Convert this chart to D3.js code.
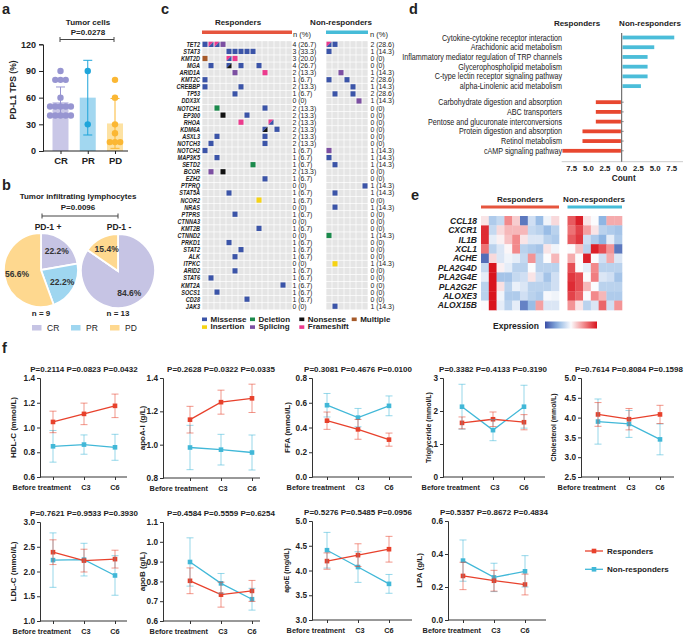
<!DOCTYPE html>
<html><head><meta charset="utf-8">
<script src="https://cdn.jsdelivr.net/npm/d3@7"></script>
<style>
body{margin:0;background:#fff}
svg{display:block;background:#fff}
text{font-family:'Liberation Sans',Arial,Helvetica,sans-serif;fill:#222}
</style>
</head><body>
<svg id="fig" width="685" height="636"></svg>
<script>
// ===================== DATA =====================
// Panel a
const aCats = ["CR", "PR", "PD"];
const aMeans = [55, 60, 31];
const aSD = [17, 42, 28];
const aCR = [90, 80, 80, 80, 60, 50, 50, 50, 50, 50, 40, 40, 40, 40, 40];
const aPR = [90, 30];
const aPD = [80, 60, 30, 20, 10, 10, 10];
const aTicks = [0, 30, 60, 90, 120];
const aPval = "P=0.0278";

// Panel b
const bCats = ["CR", "PR", "PD"];
const bPos = [2, 2, 5];
const bPosLabels = ["22.2%", "22.2%", "56.6%"];
const bNeg = [11, 0, 2];
const bNegLabels = ["84.6%", "", "15.4%"];
const bPval = "P=0.0096";

// Panel c
const cGenes = ["TET2","STAT3","KMT2D","MGA","ARID1A","KMT2C","CREBBP","TP53","DDX3X","NOTCH1","EP300","RHOA","KDM6A","ASXL3","NOTCH3","NOTCH2","MAP3K5","SETD2","BCOR","EZH2","PTPRQ","STAT5A","NCOR2","NRAS","PTPRS","CTNNA3","KMT2B","CTNND2","PRKD1","STAT2","ALK","ITPKC","ARID2","STAT6","KMT2A","SOCS1","CD28","JAK3"];
const cRespN = ["4 (26.7)","3 (33.3)","3 (20.0)","4 (26.7)","2 (13.3)","1 (6.7)","2 (13.3)","1 (6.7)","0 (0)","2 (13.3)","2 (13.3)","2 (13.3)","2 (13.3)","2 (13.3)","2 (13.3)","1 (6.7)","1 (6.7)","1 (6.7)","2 (13.3)","1 (6.7)","0 (0)","1 (6.7)","1 (6.7)","0 (0)","1 (6.7)","0 (0)","1 (6.7)","0 (0)","1 (6.7)","1 (6.7)","1 (6.7)","0 (0)","1 (6.7)","1 (6.7)","1 (6.7)","1 (6.7)","1 (6.7)","0 (0)"];
const cNonN = ["2 (28.6)","1 (14.3)","0 (0)","0 (0)","1 (14.3)","2 (28.6)","1 (14.3)","2 (28.6)","1 (14.3)","0 (0)","0 (0)","0 (0)","0 (0)","0 (0)","0 (0)","1 (14.3)","1 (14.3)","1 (14.3)","0 (0)","0 (0)","1 (14.3)","1 (14.3)","0 (0)","1 (14.3)","0 (0)","0 (0)","0 (0)","1 (14.3)","0 (0)","0 (0)","0 (0)","1 (14.3)","0 (0)","0 (0)","0 (0)","0 (0)","0 (0)","1 (14.3)"];
const cRespSamples = d3.range(15);
const cNonSamples = d3.range(7);
const cRespMut = [
 ["TET2",0,"Missense"],["TET2",1,"Frameshift/Missense"],["TET2",2,"Frameshift/Missense"],["TET2",3,"Splicing"],
 ["STAT3",4,"Missense"],["STAT3",5,"Missense"],["STAT3",6,"Missense"],["STAT3",7,"Missense"],["STAT3",8,"Missense"],
 ["KMT2D",0,"Multiple"],["KMT2D",4,"Frameshift/Missense"],["KMT2D",5,"Frameshift"],
 ["MGA",1,"Missense"],["MGA",4,"Missense/Nonsense"],["MGA",6,"Missense"],["MGA",9,"Missense"],
 ["ARID1A",5,"Splicing"],["ARID1A",10,"Frameshift"],
 ["KMT2C",0,"Missense"],
 ["CREBBP",0,"Missense"],["CREBBP",6,"Missense"],
 ["TP53",5,"Missense"],
 ["NOTCH1",2,"Deletion"],["NOTCH1",10,"Missense"],
 ["EP300",3,"Nonsense"],["EP300",7,"Missense"],
 ["RHOA",6,"Frameshift"],["RHOA",11,"Frameshift/Missense"],
 ["KDM6A",10,"Missense/Nonsense"],["KDM6A",12,"Missense"],
 ["ASXL3",2,"Missense"],["ASXL3",10,"Missense"],
 ["NOTCH3",1,"Missense"],["NOTCH3",10,"Missense"],
 ["NOTCH2",0,"Missense"],
 ["MAP3K5",2,"Missense"],
 ["SETD2",8,"Deletion"],
 ["BCOR",1,"Splicing"],["BCOR",3,"Nonsense"],
 ["EZH2",10,"Missense"],
 ["STAT5A",4,"Missense"],
 ["NCOR2",9,"Insertion"],
 ["PTPRS",5,"Missense"],
 ["KMT2B",9,"Missense"],
 ["PRKD1",4,"Missense"],
 ["STAT2",6,"Missense"],
 ["ALK",5,"Missense"],
 ["ARID2",5,"Missense"],
 ["STAT6",1,"Missense"],
 ["KMT2A",13,"Missense"],
 ["SOCS1",2,"Missense"],
 ["CD28",7,"Missense"]
];
const cNonMut = [
 ["TET2",0,"Frameshift/Missense"],["TET2",1,"Missense"],
 ["STAT3",0,"Missense"],
 ["ARID1A",2,"Splicing"],
 ["KMT2C",0,"Missense"],["KMT2C",3,"Missense"],
 ["CREBBP",4,"Missense"],
 ["TP53",1,"Missense"],["TP53",4,"Missense"],
 ["DDX3X",5,"Splicing"],
 ["NOTCH2",0,"Splicing"],
 ["MAP3K5",0,"Missense"],
 ["SETD2",1,"Missense"],
 ["PTPRQ",6,"Missense"],
 ["STAT5A",1,"Missense"],
 ["NRAS",1,"Missense"],
 ["CTNND2",0,"Deletion"],
 ["ITPKC",1,"Insertion"],
 ["JAK3",1,"Missense"]
];
const cTypes = ["Missense","Deletion","Nonsense","Multiple","Insertion","Splicing","Frameshift"];

// Panel d
const dTerms = ["Cytokine-cytokine receptor interaction","Arachidonic acid metabolism","Inflammatory mediator regulation of TRP channels","Glycerophospholipid metabolism","C-type lectin receptor signaling pathway","alpha-Linolenic acid metabolism","Carbohydrate digestion and absorption","ABC transporters","Pentose and glucuronate interconversions","Protein digestion and absorption","Retinol metabolism","cAMP signaling pathway"];
const dCounts = [8, 5, 4, 4, 4, 3, 4, 4, 4, 6, 6, 9];
const dGroups = ["Non-responders","Non-responders","Non-responders","Non-responders","Non-responders","Non-responders","Responders","Responders","Responders","Responders","Responders","Responders"];
const dTicks = [0, 2.5, 5, 7.5];

// Panel e
const eGenes = ["CCL18","CXCR1","IL1B","XCL1","ACHE","PLA2G4D","PLA2G4E","PLA2G2F","ALOXE3","ALOX15B"];
const eResp = [
 [0.1,-0.35,-0.25,0.5,0.2,-0.8,-0.2,-0.45,-0.05,0.15],
 [0.9,-0.25,0.15,0.3,0.3,0.3,-0.25,-0.3,-0.45,-0.3],
 [0.9,-0.1,0.05,0.25,0.5,0.1,-0.15,-0.15,-0.3,-0.35],
 [0.6,-0.3,-0.15,0.02,0.5,-0.3,-0.35,-0.4,0.1,-0.05],
 [-0.85,0.15,-0.15,-0.05,-0.1,-0.25,0.45,-0.3,0.0,0.3],
 [-0.25,1.0,0.05,-0.1,-0.3,-0.3,0.0,-0.3,-0.3,-0.3],
 [-0.1,1.0,-0.4,-0.4,-0.25,-0.2,0.1,-0.2,-0.4,-0.2],
 [-0.3,1.0,0.12,-0.3,-0.08,-0.15,-0.3,-0.3,-0.3,-0.2],
 [-0.3,1.0,-0.05,-0.35,-0.35,-0.2,-0.3,-0.35,-0.02,-0.05],
 [0.0,1.0,-0.1,-0.3,-0.1,-0.75,-0.45,0.4,-0.15,-0.15]
];
const eNon = [
 [0.7,0.95,0.1,0.0,-0.5,0.35,0.35],
 [0.6,0.8,0.4,0.1,-0.3,-0.35,-0.4],
 [0.7,0.85,-0.2,-0.35,-0.5,-0.1,-0.35],
 [0.0,0.25,-0.3,0.95,0.75,0.45,-0.8],
 [0.35,0.0,0.95,0.0,-0.2,0.35,-0.15],
 [0.75,0.0,-0.1,0.5,-0.3,-0.3,-0.3],
 [0.85,0.75,0.0,0.55,-0.15,-0.2,-0.4],
 [0.9,0.75,0.3,0.0,-0.3,-0.3,-0.3],
 [0.8,0.65,0.0,0.5,0.3,-0.35,-0.35],
 [0.45,0.1,-0.3,-0.15,0.65,-0.2,0.45]
];

// Panel f
const fTimes = ["Before treatment", "C3", "C6"];
const fYLabels = ["HDL-C (mmol/L)","apoA-I (g/L)","FFA (mmol/L)","Triglyceride (mmol/L)","Cholesterol (mmol/L)","LDL-C (mmol/L)","apoB (g/L)","apoE (mg/dL)","LPA (g/L)"];
const fPvals = ["P=0.2114 P=0.0823 P=0.0432","P=0.2628 P=0.0322 P=0.0335","P=0.3081 P=0.4676 P=0.0100","P=0.3382 P=0.4133 P=0.3190","P=0.7614 P=0.8084 P=0.1598","P=0.7621 P=0.9533 P=0.3930","P=0.4584 P=0.5559 P=0.6254","P=0.5276 P=0.5485 P=0.0956","P=0.5357 P=0.8672 P=0.4834"];
const fDomains = [[0.6,1.4],[0.8,1.4],[0,0.8],[0,3],[2.5,5],[1,3],[0.6,1.1],[3,5],[0,0.6]];
const fTicks = [[0.6,0.8,1.0,1.2,1.4],[0.8,1.0,1.2,1.4],[0,0.2,0.4,0.6,0.8],[0,1,2,3],[2.5,3,3.5,4,4.5,5],[1,1.5,2,2.5,3],[0.6,0.7,0.8,0.9,1.0,1.1],[3,3.5,4,4.5,5],[0,0.2,0.4,0.6]];
const fTickFmt = [".1f",".1f",".1f","d",".1f",".1f",".1f",".1f",".1f"];
const fRespMean = [[1.045,1.11,1.175],[1.15,1.255,1.278],[0.455,0.385,0.302],[1.64,1.75,1.66],[4.08,3.96,4.08],[2.39,2.22,2.25],[0.803,0.733,0.752],[4.19,4.31,4.43],[0.267,0.238,0.215]];
const fRespErr  = [[0.087,0.087,0.095],[0.08,0.072,0.085],[0.07,0.08,0.053],[0.18,0.22,0.23],[0.3,0.27,0.23],[0.25,0.23,0.18],[0.065,0.063,0.053],[0.165,0.23,0.26],[0.083,0.063,0.063]];
const fNonMean  = [[0.848,0.862,0.84],[0.983,0.97,0.953],[0.58,0.48,0.575],[2.13,1.42,2.13],[3.9,3.84,3.45],[2.23,2.24,1.92],[0.898,0.79,0.71],[4.41,4.07,3.73],[0.36,0.258,0.295]];
const fNonErr   = [[0.128,0.078,0.105],[0.133,0.092,0.105],[0.095,0.074,0.08],[0.68,0.32,0.65],[0.57,0.34,0.39],[0.55,0.33,0.4],[0.122,0.05,0.055],[0.36,0.31,0.19],[0.125,0.086,0.095]];
const fSeries = ["Responders", "Non-responders"];

// ===================== STYLE =====================
const RED = "#e8412c", CYAN = "#41b8d8";
const aBarCol = {CR:"#c9c7e7", PR:"#a2d7f0", PD:"#fde2a3"};
const aDotCol = {CR:"#9795d1", PR:"#1ea5da", PD:"#fbb733"};
const bCol = {CR:"#c6c4e4", PR:"#9fd6f0", PD:"#fed88f"};
const cCol = {Missense:"#3b54a8", Deletion:"#1b8a4c", Nonsense:"#111111", Multiple:"#a65a2a", Insertion:"#f6d313", Splicing:"#7c4fa2", Frameshift:"#ec3a8d"};

const svg = d3.select("#fig");
function T(x, y, s, o = {}) {
  const size = o.size || 8, weight = o.weight || "bold", anchor = o.anchor || "start";
  let tr = `translate(${x},${y})`;
  if (o.rot) tr += ` rotate(${o.rot})`;
  if (o.sx) tr += ` scale(${o.sx},1)`;
  return svg.append("text").attr("transform", tr).attr("text-anchor", anchor)
    .attr("font-size", size).attr("font-weight", weight).attr("font-style", o.style || "normal")
    .style("fill", o.fill || "#222").text(s);
}
function line(x1, y1, x2, y2, col = "#333", w = 1) {
  svg.append("line").attr("x1", x1).attr("y1", y1).attr("x2", x2).attr("y2", y2)
    .attr("stroke", col).attr("stroke-width", w);
}

// panel letters
[["a",2,14],["b",2,190],["c",161,14],["d",409,14],["e",411,200],["f",2,353]].forEach(([l,x,y]) => T(x, y, l, {size:14.5}));

// ===================== PANEL A =====================
{
  const y = d3.scaleLinear().domain([0, 120]).range([151, 44.3]);
  const x = d3.scalePoint().domain(aCats).range([60.5, 115]);
  const bw = 16;
  const pts = {CR: aCR, PR: aPR, PD: aPD};
  svg.append("g").selectAll("rect").data(aCats).join("rect")
    .attr("x", d => x(d) - bw / 2).attr("width", bw)
    .attr("y", (d, i) => y(aMeans[i])).attr("height", (d, i) => y(0) - y(aMeans[i]))
    .attr("fill", d => aBarCol[d]);
  aCats.forEach((c, i) => {
    const lo = Math.max(0, aMeans[i] - aSD[i]), hi = aMeans[i] + aSD[i];
    line(x(c), y(lo), x(c), y(hi), aDotCol[c], 1);
    line(x(c) - 4.5, y(hi), x(c) + 4.5, y(hi), aDotCol[c], 1);
    line(x(c) - 4.5, y(lo), x(c) + 4.5, y(lo), aDotCol[c], 1);
  });
  aCats.forEach(c => {
    const vals = pts[c];
    const groups = d3.group(vals.map((v, k) => ({v, k})), d => d.v);
    groups.forEach(arr => {
      arr.forEach((d, j) => {
        const off = (j - (arr.length - 1) / 2) * 5.2;
        svg.append("circle").attr("cx", x(c) + off).attr("cy", y(d.v)).attr("r", 3.2).attr("fill", aDotCol[c]);
      });
    });
  });
  const ga = svg.append("g").attr("transform", "translate(43,0)")
    .call(d3.axisLeft(y).tickValues(aTicks).tickSize(4).tickPadding(3));
  ga.selectAll("text").attr("font-size", 9).attr("font-weight", "bold").style("font-family", "'Liberation Sans',Arial,sans-serif");
  ga.selectAll("line,path").attr("stroke", "#222");
  const gb = svg.append("g").attr("transform", "translate(0,151)")
    .call(d3.axisBottom(x).tickSize(3).tickPadding(3));
  gb.select(".domain").attr("d", "M43,0H128");
  gb.selectAll("text").attr("font-size", 9.5).attr("font-weight", "bold").style("font-family", "'Liberation Sans',Arial,sans-serif");
  gb.selectAll("line,path").attr("stroke", "#222");
  T(16, 90, "PD-L1 TPS (%)", {size: 8.5, anchor: "middle", rot: -90});
  T(88, 25, "Tumor cells", {size: 8, anchor: "middle"});
  T(88, 35, aPval, {size: 8, anchor: "middle"});
  line(60, 39.5, 114, 39.5, "#444");
  line(60, 37, 60, 42, "#444"); line(114, 37, 114, 42, "#444");
}

// ===================== PANEL B =====================
{
  const pie = d3.pie().sort(null).value(d => d).startAngle(0).endAngle(2 * Math.PI);
  const arc = d3.arc().innerRadius(0).outerRadius(37);
  const lab = d3.arc().innerRadius(0.66 * 37).outerRadius(0.66 * 37);
  [[bPos, bPosLabels, 41, 270], [bNeg, bNegLabels, 118, 271]].forEach(([vals, labs, cx, cy]) => {
    const g = svg.append("g").attr("transform", `translate(${cx},${cy})`);
    const arcs = pie(vals);
    g.selectAll("path").data(arcs).join("path").attr("d", arc)
      .attr("fill", (d, i) => bCol[bCats[i]]).attr("stroke", "#fff").attr("stroke-width", 1.8);
    arcs.forEach((d, i) => {
      if (!labs[i]) return;
      const [lx, ly] = lab.centroid(d);
      T(cx + lx, cy + ly + 3, labs[i], {size: 8.5, anchor: "middle", fill: "#333"});
    });
  });
  T(78, 199, "Tumor infiltrating lymphocytes", {size: 8, anchor: "middle"});
  T(78, 210, bPval, {size: 8, anchor: "middle"});
  line(42, 216, 118, 216, "#444");
  line(42, 213.5, 42, 218.5, "#444"); line(118, 213.5, 118, 218.5, "#444");
  T(48, 230, "PD-1 +", {size: 8.5, anchor: "middle"});
  T(119, 230, "PD-1 -", {size: 8.5, anchor: "middle"});
  T(41, 316, "n = 9", {size: 8, anchor: "middle"});
  T(118, 316, "n = 13", {size: 8, anchor: "middle"});
  const lx = d3.scalePoint().domain(bCats).range([32, 110]);
  bCats.forEach(c => {
    svg.append("rect").attr("x", lx(c)).attr("y", 325).attr("width", 9.5).attr("height", 5.5).attr("fill", bCol[c]);
    T(lx(c) + 15, 331, c, {size: 8.5, weight: "normal"});
  });
}

// ===================== PANEL C =====================
{
  const yR = d3.scaleBand().domain(cGenes).range([40.8, 309.8]);
  const xR = d3.scaleBand().domain(cRespSamples).range([202, 292]);
  const xN = d3.scaleBand().domain(cNonSamples).range([326, 368]);
  const gap = 0.7;
  function grid(xs, samples) {
    cGenes.forEach(g => samples.forEach(s => {
      svg.append("rect").attr("x", xs(s) + gap / 2).attr("y", yR(g) + gap / 2)
        .attr("width", xs.bandwidth() - gap).attr("height", yR.bandwidth() - gap).attr("fill", "#e5e5e5");
    }));
  }
  grid(xR, cRespSamples); grid(xN, cNonSamples);
  function muts(xs, list) {
    list.forEach(([g, s, t]) => {
      const w = 5, h = 5.2;
      const x0 = xs(s) + (xs.bandwidth() - w) / 2, y0 = yR(g) + (yR.bandwidth() - h) / 2;
      const parts = t.split("/");
      if (parts.length === 1) {
        svg.append("rect").attr("x", x0).attr("y", y0).attr("width", w).attr("height", h).attr("fill", cCol[t]);
      } else {
        svg.append("polygon").attr("points", `${x0},${y0} ${x0 + w},${y0} ${x0},${y0 + h}`).attr("fill", cCol[parts[0]]);
        svg.append("polygon").attr("points", `${x0 + w},${y0} ${x0 + w},${y0 + h} ${x0},${y0 + h}`).attr("fill", cCol[parts[1]]);
      }
    });
  }
  muts(xR, cRespMut); muts(xN, cNonMut);
  cGenes.forEach((g, i) => {
    const yc = yR(g) + yR.bandwidth() / 2 + 2.5;
    T(200, yc, g, {size: 7.3, style: "italic", anchor: "end", sx: 0.76});
    T(292.5, yc, cRespN[i], {size: 6.9, weight: "normal", sx: 1.0});
    T(370.5, yc, cNonN[i], {size: 6.9, weight: "normal", sx: 1.0});
  });
  T(238, 25, "Responders", {size: 8, anchor: "middle"});
  T(341, 25, "Non-responders", {size: 8, anchor: "middle"});
  svg.append("rect").attr("x", 202).attr("y", 30.5).attr("width", 90).attr("height", 3.5).attr("fill", "#e6553e");
  svg.append("rect").attr("x", 326).attr("y", 30.5).attr("width", 42).attr("height", 3.5).attr("fill", "#46bcd8");
  T(293, 37, "n (%)", {size: 7.5, weight: "normal"});
  T(370, 37, "n (%)", {size: 7.5, weight: "normal"});
  const legPos = [[202, 321.5], [250, 321.5], [299.3, 321.5], [351.7, 321.5], [202, 329.3], [250, 329.3], [299.3, 329.3]];
  cTypes.forEach((t, i) => {
    const [lx, ly] = legPos[i];
    svg.append("rect").attr("x", lx).attr("y", ly - 4).attr("width", 5).attr("height", 3.6).attr("fill", cCol[t]);
    T(lx + 8.5, ly, t, {size: 8});
  });
}

// ===================== PANEL D =====================
{
  const zero = 621.7, unit = 6.67;
  const xR = d3.scaleLinear().domain([0, 9]).range([zero, zero + 9 * unit]);
  const xL = d3.scaleLinear().domain([0, 9]).range([zero, zero - 9 * unit]);
  const yPos = d3.scaleLinear().domain([0, 11.65]).range([37.5, 150.8]);
  const idx = i => i < 6 ? i : i + 0.65;
  const bh = 5.4;
  dTerms.forEach((t, i) => {
    const yc = yPos(idx(i));
    const resp = dGroups[i] === "Responders";
    const xs = resp ? xL : xR;
    const x1 = xs(dCounts[i]);
    svg.append("rect").attr("x", Math.min(zero, x1)).attr("y", yc - bh / 2)
      .attr("width", Math.abs(x1 - zero)).attr("height", bh)
      .attr("fill", resp ? "#e8472f" : "#4bbdd9").attr("stroke", "#fff").attr("stroke-width", 1.6);
    T(562, yc + 3, t, {size: 9, weight: "normal", anchor: "end", sx: 0.8});
    if (resp) line(zero, yc, zero + 2, yc, "#777", 0.8);
  });
  line(561.7, 161.7, 683, 161.7, "#ccc", 1);
  line(zero, 33, zero, 161.7, "#555", 1);
  const fmt = d3.format(".1f");
  dTicks.forEach(v => {
    T(xL(v), 171, fmt(v), {size: 7.8, anchor: "middle"});
    if (v > 0) T(xR(v), 171, fmt(v), {size: 7.8, anchor: "middle"});
  });
  T(zero + 2, 181, "Count", {size: 8.3, anchor: "middle"});
  T(577, 26, "Responders", {size: 8, anchor: "middle"});
  T(650, 26, "Non-responders", {size: 8, anchor: "middle"});
}

// ===================== PANEL E =====================
{
  const col = d3.scaleLinear().domain([-1, -0.5, 0, 0.5, 1])
    .range(["#3a4ea6", "#8fb6e3", "#fbfbfd", "#f2898b", "#d9141e"]).clamp(true);
  const yE = d3.scaleBand().domain(eGenes).range([216, 310]);
  const xRe = d3.scaleBand().domain(d3.range(10)).range([481, 559]);
  const xNe = d3.scaleBand().domain(d3.range(7)).range([567.5, 622]);
  eGenes.forEach((g, r) => {
    eResp[r].forEach((v, c) => svg.append("rect").attr("x", xRe(c)).attr("y", yE(g))
      .attr("width", xRe.bandwidth() + 0.3).attr("height", yE.bandwidth() + 0.3).attr("fill", col(v)));
    eNon[r].forEach((v, c) => svg.append("rect").attr("x", xNe(c)).attr("y", yE(g))
      .attr("width", xNe.bandwidth() + 0.3).attr("height", yE.bandwidth() + 0.3).attr("fill", col(v)));
    T(477, yE(g) + yE.bandwidth() / 2 + 3, g, {size: 8.5, style: "italic", anchor: "end"});
  });
  T(520, 202, "Responders", {size: 8, anchor: "middle"});
  T(594, 202, "Non-responders", {size: 8, anchor: "middle"});
  svg.append("rect").attr("x", 481).attr("y", 205.5).attr("width", 78).attr("height", 3).attr("fill", "#e6553e");
  svg.append("rect").attr("x", 567.5).attr("y", 205.5).attr("width", 54.5).attr("height", 3).attr("fill", "#46bcd8");
  T(516, 329, "Expression", {size: 8.5, anchor: "middle"});
  const defs = svg.append("defs");
  const lg = defs.append("linearGradient").attr("id", "exgrad");
  d3.range(0, 1.0001, 0.1).forEach(t => lg.append("stop").attr("offset", t).attr("stop-color", col(-1 + 2 * t)));
  svg.append("rect").attr("x", 545).attr("y", 321.5).attr("width", 52).attr("height", 7).attr("fill", "url(#exgrad)");
}

// ===================== PANEL F =====================
{
  const lay = [
    {ax: 40, p0: 53, end: 127, top: 378, bot: 477, yl: 16, ys: 8},
    {ax: 163, p0: 190, end: 260, top: 378, bot: 478, yl: 145, ys: 8},
    {ax: 312, p0: 327, end: 412, top: 378, bot: 477, yl: 290, ys: 8},
    {ax: 443, p0: 462, end: 545, top: 378, bot: 477, yl: 431, ys: 7},
    {ax: 581, p0: 598, end: 674, top: 378, bot: 477, yl: 556, ys: 6.8},
    {ax: 40, p0: 53, end: 127, top: 522, bot: 621, yl: 16, ys: 8},
    {ax: 163, p0: 190, end: 260, top: 522, bot: 621, yl: 145, ys: 8},
    {ax: 312, p0: 327, end: 412, top: 521, bot: 620, yl: 289, ys: 7},
    {ax: 448, p0: 463, end: 546, top: 521, bot: 620, yl: 422, ys: 8}
  ];
  const errCol = {Responders: "rgba(232,65,44,0.55)", "Non-responders": "rgba(65,184,216,0.55)"};
  const lineCol = {Responders: RED, "Non-responders": CYAN};
  lay.forEach((L, k) => {
    const y = d3.scaleLinear().domain(fDomains[k]).range([L.bot, L.top]);
    const x = d3.scalePoint().domain(fTimes).range([L.p0, L.p0 + 62]);
    const g = svg.append("g");
    const ya = g.append("g").attr("transform", `translate(${L.ax},0)`)
      .call(d3.axisLeft(y).tickValues(fTicks[k]).tickFormat(d3.format(fTickFmt[k])).tickSize(3).tickPadding(2));
    ya.selectAll("text").attr("font-size", 8.2).attr("font-weight", "bold").style("font-family", "'Liberation Sans',Arial,sans-serif");
    ya.selectAll("line,path").attr("stroke", "#333");
    const xa = g.append("g").attr("transform", `translate(0,${L.bot})`)
      .call(d3.axisBottom(x).tickSize(3).tickFormat(""));
    xa.select(".domain").attr("d", `M${L.ax},0H${L.end}`);
    xa.selectAll("line,path").attr("stroke", "#333");
    const lbY = L.bot + 12.5;
    T(x("Before treatment") + 18, lbY, "Before treatment", {size: 7.3, anchor: "end"});
    T(x("C3") + 2, lbY, "C3", {size: 7.3, anchor: "middle"});
    T(x("C6"), lbY, "C6", {size: 7.3, anchor: "middle"});
    T(x("C3"), L.top - 6, fPvals[k], {size: 8, anchor: "middle"});
    T(L.yl, (L.top + L.bot) / 2, fYLabels[k], {size: L.ys, anchor: "middle", rot: -90});
    [["Non-responders", fNonMean[k], fNonErr[k]], ["Responders", fRespMean[k], fRespErr[k]]].forEach(([s, m, e]) => {
      m.forEach((v, j) => {
        const xc = x(fTimes[j]);
        line(xc, y(v - e[j]), xc, y(v + e[j]), errCol[s], 1);
        line(xc - 3.5, y(v - e[j]), xc + 3.5, y(v - e[j]), errCol[s], 1);
        line(xc - 3.5, y(v + e[j]), xc + 3.5, y(v + e[j]), errCol[s], 1);
      });
    });
    [["Non-responders", fNonMean[k]], ["Responders", fRespMean[k]]].forEach(([s, m]) => {
      const ln = d3.line().x((d, j) => x(fTimes[j])).y(d => y(d));
      g.append("path").attr("d", ln(m)).attr("fill", "none").attr("stroke", lineCol[s]).attr("stroke-width", 1.3);
      m.forEach((v, j) => g.append("rect").attr("x", x(fTimes[j]) - 2.3).attr("y", y(v) - 2.3)
        .attr("width", 4.6).attr("height", 4.6).attr("fill", lineCol[s]));
    });
  });
  const ly = d3.scalePoint().domain(fSeries).range([551, 569.3]);
  fSeries.forEach(s => {
    line(585, ly(s), 603, ly(s), lineCol[s], 1.3);
    svg.append("rect").attr("x", 594 - 2.3).attr("y", ly(s) - 2.3).attr("width", 4.6).attr("height", 4.6).attr("fill", lineCol[s]);
    T(607, ly(s) + 3, s, {size: 8});
  });
}
</script>
</body></html>
